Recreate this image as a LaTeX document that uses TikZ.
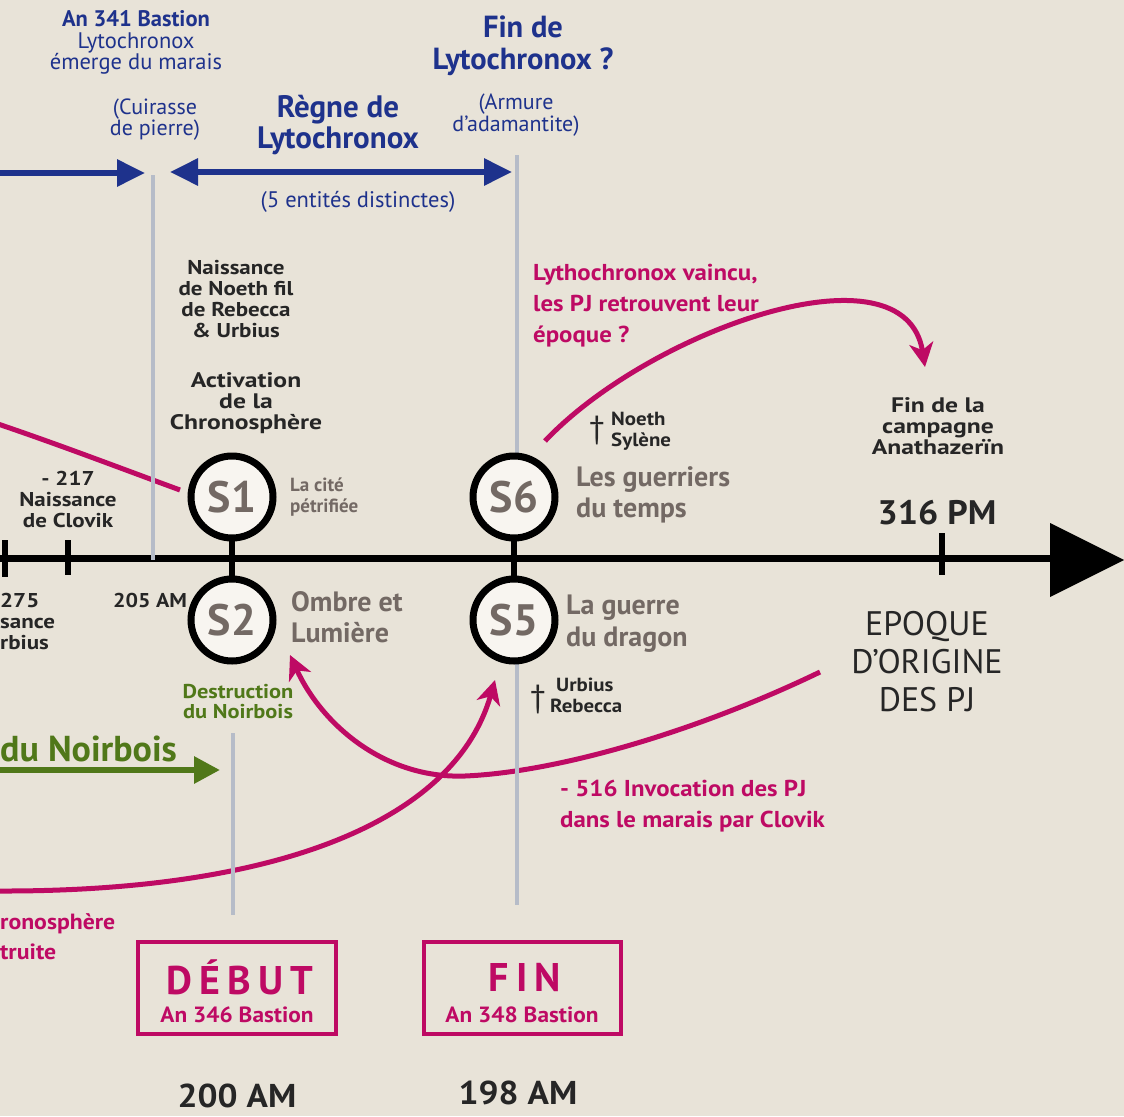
\documentclass[tikz,border=0pt]{standalone}
\usepackage{fontspec}
\setmainfont{PT Sans}
\usetikzlibrary{arrows.meta}
\definecolor{parch}{RGB}{232,227,216}
\definecolor{navy}{RGB}{30,50,140}
\definecolor{mag}{RGB}{190,10,100}
\definecolor{leaf}{RGB}{80,120,25}
\definecolor{stone}{RGB}{115,105,100}
\definecolor{vline}{RGB}{182,188,200}
\definecolor{disc}{RGB}{248,245,240}
\newcommand\fsz[2]{\fontsize{#1}{#2}\selectfont}
\newcommand\wide[1]{\addfontfeature{FakeStretch=#1}}
\tikzset{
  txt/.style={inner sep=0pt, align=center},
  bluetxt/.style={txt, text=navy},
  magtxt/.style={txt, text=mag, font=\bfseries\fsz{23}{31}\wide{1.08}, align=left},
  darktxt/.style={txt, text=black!85, font=\bfseries\fsz{20}{21}\wide{1.15}},
  stonetxt/.style={txt, text=stone, align=left},
  guide/.style={draw=vline, line width=3.5pt},
  bluearrow/.style={draw=navy, line width=6pt, -{Triangle[length=28pt,width=26pt]}},
  magcurve/.style={draw=mag, line width=5pt},
  magarrow/.style={magcurve, -{Stealth[length=24pt,width=24pt,inset=7pt]}},
  session/.style={circle, draw=black, line width=7pt, fill=disc, minimum size=82pt, inner sep=0pt, text=stone, font=\bfseries\fsz{44}{44}},
  framebox/.style={draw=mag, line width=3.5pt},
  tick/.style={draw=black, line width=6pt}
}
\begin{document}
\begin{tikzpicture}[x=1pt,y=-1pt]
\useasboundingbox (0,0) rectangle (1124,1116);
\clip (0,0) rectangle (1124,1116);
\fill[parch] (0,0) rectangle (1124,1116);

% top blue texts
\node[bluetxt, font=\fsz{22.5}{21.5}] (t341) at (136,42.5) {\textbf{An 341 Bastion}\\Lytochronox\\émerge du marais};
\node[bluetxt, font=\fsz{22}{21}] (cuir) at (155,120) {(Cuirasse\\de pierre)};
\node[bluetxt, font=\bfseries\fsz{31}{31}] (regne) at (338,125) {Règne de\\Lytochronox};
\node[bluetxt, font=\fsz{22}{22}] (armure) at (516,115) {(Armure\\d'adamantite)};
\node[bluetxt, font=\bfseries\fsz{30.5}{32}] (finlyto) at (523,46) {Fin de\\Lytochronox ?};
\node[bluetxt, font=\fsz{22.5}{22}] (ent) at (358,202) {(5 entités distinctes)};

% blue arrows
\coordinate (bl0) at (0,173);
\coordinate (bl1) at (145,173);
\coordinate (rg0) at (170,172);
\coordinate (rg1) at (512,172);
\draw[bluearrow] (bl0) -- (bl1);
\draw[bluearrow, {Triangle[length=28pt,width=26pt]}-{Triangle[length=28pt,width=26pt]}] (rg0) -- (rg1);

% green arrow
\node[txt, text=leaf, font=\bfseries\fsz{36}{36}, anchor=west] (noirbois) at (0,749) {du Noirbois};
\coordinate (gr0) at (0,770);
\coordinate (gr1) at (220,770);
\draw[draw=leaf, line width=6pt, -{Triangle[length=26pt,width=26pt]}] (gr0) -- (gr1);

% timeline
\coordinate (tl0) at (0,558);
\coordinate (tl1) at (1055,558);
\draw[draw=black, line width=7pt] (tl0) -- (tl1);
\fill[black] (1050,523) -- (1124,560) -- (1050,597) -- cycle;
\coordinate (k1a) at (5,540); \coordinate (k1b) at (5,577);
\coordinate (k2a) at (68,540); \coordinate (k2b) at (68,575);
\coordinate (k3a) at (942,533); \coordinate (k3b) at (942,575);
\draw[tick] (k1a) -- (k1b);
\draw[tick] (k2a) -- (k2b);
\draw[tick] (k3a) -- (k3b);

% magenta curves
\coordinate (m1a) at (-2,424);
\coordinate (m1b) at (180,490);
\draw[magcurve] (m1a) .. controls (60,445) and (120,468) .. (m1b);
\coordinate (m2a) at (545,441);
\coordinate (m2b) at (925,367);
\draw[magarrow] (m2a) .. controls (650,330) and (905,240) .. (m2b);
\coordinate (m3a) at (820,672);
\coordinate (m3m) at (465,776);
\coordinate (m3b) at (290,655);
\draw[magarrow] (m3a) .. controls (700,730) and (560,772) .. (m3m) .. controls (385,779) and (322,725) .. (m3b);
\coordinate (m4a) at (-2,891);
\coordinate (m4b) at (495,680);
\draw[magarrow] (m4a) .. controls (280,892) and (455,820) .. (m4b);

% guide lines
\coordinate (g1a) at (153,175); \coordinate (g1b) at (153,560);
\coordinate (g2a) at (517,155); \coordinate (g2b) at (517,455);
\coordinate (g3a) at (517,660); \coordinate (g3b) at (517,905);
\coordinate (g4a) at (233,733); \coordinate (g4b) at (233,915);
\draw[guide] (g1a) -- (g1b);
\draw[guide] (g2a) -- (g2b);
\draw[guide] (g3a) -- (g3b);
\draw[guide] (g4a) -- (g4b);

% sessions
\coordinate (c1) at (232,497);
\coordinate (c2) at (232,620);
\coordinate (c6) at (514,497);
\coordinate (c5) at (514,620);
\draw[draw=black, line width=6pt] (c1) -- (c2);
\draw[draw=black, line width=6pt] (c6) -- (c5);
\node[session] (s1) at (c1) {S1};
\node[session] (s2) at (c2) {S2};
\node[session] (s6) at (c6) {S6};
\node[session] (s5) at (c5) {S5};

% session labels
\node[stonetxt, font=\bfseries\fsz{19}{21}, anchor=west] (cite) at (290,497.5) {La cité\\pétrifiée};
\node[stonetxt, font=\bfseries\fsz{28}{31}, anchor=west] (ombre) at (291,617.5) {Ombre et\\Lumière};
\node[stonetxt, font=\bfseries\fsz{28}{31}, anchor=west] (guerr) at (576,494.5) {Les guerriers\\du temps};
\node[stonetxt, font=\bfseries\fsz{28}{32}, anchor=west] (drag) at (566,624) {La guerre\\du dragon};

% black labels
\node[darktxt] (noeth) at (236,299) {Naissance\\de Noeth fil\\de Rebecca\\\& Urbius};
\node[darktxt, font=\bfseries\fsz{21}{21}\wide{1.22}] (activ) at (246,403.5) {Activation\\de la\\Chronosphère};
\node[darktxt] (clovik) at (68,499) {- 217\\Naissance\\de Clovik};
\node[darktxt, align=left, anchor=west] (urb275) at (0,621) {275\\sance\\rbius};
\node[darktxt, font=\bfseries\fsz{20}{20}\wide{1.1}] (am205) at (150,600) {205 AM};
\node[darktxt, font=\bfseries\fsz{21}{21}\wide{1.22}] (fincamp) at (938,426) {Fin de la\\campagne\\Anathazerïn};
\node[darktxt, font=\bfseries\fsz{34}{34}\wide{1.05}] (pm316) at (937,513) {316 PM};
\node[txt, text=black!85, font=\fsz{34}{38}] (epoque) at (927,662) {EPOQUE\\D'ORIGINE\\DES PJ};
\node[darktxt, font=\bfseries\fsz{33}{33}\wide{1.07}] (am200) at (237,1096) {200 AM};
\node[darktxt, font=\bfseries\fsz{33}{33}\wide{1.07}] (am198) at (518,1093) {198 AM};

% deaths
\node[txt, text=black!85, font=\fsz{32}{32}] (dag1) at (597,430) {†};
\node[darktxt, font=\bfseries\fsz{19}{21}\wide{1.1}, align=left, anchor=west] (ns) at (611,431.5) {Noeth\\Sylène};
\node[txt, text=black!85, font=\fsz{32}{32}] (dag2) at (538,699) {†};
\node[darktxt, font=\bfseries\fsz{19}{21}\wide{1.1}, align=left, anchor=west] (ur) at (550,695.5) {\hspace{6pt}Urbius\\Rebecca};

% green label
\node[txt, text=leaf, font=\bfseries\fsz{20}{20}\wide{1.12}] (destr) at (238,702) {Destruction\\du Noirbois};

% magenta texts
\node[magtxt, anchor=west] (vaincu) at (533,306) {Lythochronox vaincu,\\les PJ retrouvent leur\\époque ?};
\node[magtxt, anchor=west] (invoc) at (560,806.5) {- 516 Invocation des PJ\\dans le marais par Clovik};
\node[magtxt, anchor=west, font=\bfseries\fsz{22}{30}\wide{1.08}] (chrono) at (0,937) {ronosphère\\truite};

% boxes
\node[framebox, minimum width=198pt, minimum height=92pt, inner sep=0pt] (debut) at (237,988) {};
\node[txt, text=mag, font=\bfseries\fsz{40}{40}\addfontfeature{LetterSpace=18}] (debutt) at (240,977) {DÉBUT};
\node[txt, text=mag, font=\bfseries\fsz{22}{22}\wide{1.06}] (debuts) at (237,1015) {An 346 Bastion};
\node[framebox, minimum width=197pt, minimum height=92pt, inner sep=0pt] (fin) at (522.5,988) {};
\node[txt, text=mag, font=\bfseries\fsz{40}{40}\addfontfeature{LetterSpace=18}] (fint) at (525,977) {FIN};
\node[txt, text=mag, font=\bfseries\fsz{22}{22}\wide{1.06}] (fins) at (522,1015) {An 348 Bastion};
\end{tikzpicture}
\end{document}
